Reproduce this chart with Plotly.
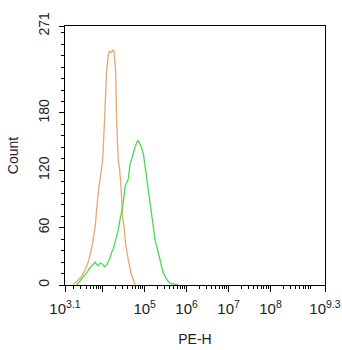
import math
import plotly.graph_objects as go

# Control (orange) histogram: log10(PE-H) and counts
ctrl_log = [3.29, 3.34, 3.42, 3.50, 3.58, 3.67, 3.75, 3.82, 3.89, 3.95, 4.00, 4.05, 4.09, 4.13,
            4.16, 4.20, 4.24, 4.27, 4.31, 4.33, 4.37, 4.40, 4.435, 4.475, 4.51, 4.54, 4.57, 4.61,
            4.67, 4.73, 4.77]
ctrl_cnt = [0, 2, 5, 9, 16, 26, 42, 61, 96, 118, 131, 180, 222, 240,
            245, 243, 246, 244, 222, 173, 131, 122, 103, 70, 61, 45, 34, 26,
            13, 5, 0]

# Sample (green) histogram
samp_log = [3.38, 3.46, 3.54, 3.62, 3.68, 3.74, 3.78, 3.82, 3.86, 3.89, 3.94, 3.99, 4.04, 4.09,
            4.13, 4.17, 4.21, 4.25, 4.29, 4.33, 4.37, 4.41, 4.45, 4.49, 4.53, 4.57, 4.61, 4.65,
            4.69, 4.73, 4.76, 4.79, 4.82, 4.85, 4.87, 4.89, 4.93, 4.97, 5.02, 5.07, 5.12, 5.17,
            5.21, 5.25, 5.29, 5.32, 5.38, 5.44, 5.52, 5.60, 5.70, 5.79]
samp_cnt = [0, 4, 8, 13, 17, 20, 22, 24, 21, 20, 23, 22, 19, 21,
            24, 28, 34, 38, 44, 50, 58, 68, 79, 86, 103, 107, 111, 126,
            131, 138, 143, 148, 150, 151, 149, 147, 143, 137, 120, 103, 86, 68,
            57, 47, 40, 34, 22, 13, 6, 2, 1, 0]

x_tick_exp = [3.1, 4, 5, 6, 7, 8, 9.3]
x_tick_txt = ["10<sup>3.1</sup>", "", "10<sup>5</sup>", "10<sup>6</sup>", "10<sup>7</sup>",
              "10<sup>8</sup>", "10<sup>9.3</sup>"]
y_tick_vals = [0, 60, 120, 180, 271]
y_tick_txt = ["0", "60", "120", "180", "271"]

minor_x = [m * 10 ** d for d in range(3, 10) for m in range(2, 10)
           if 3.1 < math.log10(m * 10 ** d) < 9.3]

fig = go.Figure()
fig.add_trace(go.Scatter(x=[10 ** v for v in ctrl_log], y=ctrl_cnt, mode="lines",
                         line=dict(color="#E8A670", width=1.3), showlegend=False))
fig.add_trace(go.Scatter(x=[10 ** v for v in samp_log], y=samp_cnt, mode="lines",
                         line=dict(color="#4FD84F", width=1.3), showlegend=False))

fig.update_layout(
    width=342, height=350,
    margin=dict(l=65, r=17, t=26, b=65, autoexpand=False),
    paper_bgcolor="white", plot_bgcolor="white",
    font=dict(family="Liberation Sans, Arial, sans-serif", color="#222222"),
)
fig.update_xaxes(
    type="log", range=[3.1, 9.3], automargin=False,
    tickmode="array", tickvals=[10 ** v for v in x_tick_exp], ticktext=x_tick_txt,
    ticks="outside", ticklen=6, tickcolor="black", tickfont=dict(size=15),
    ticklabelstandoff=4,
    showline=True, linecolor="black", linewidth=1, mirror=True,
    showgrid=False, zeroline=False,
    minor=dict(tickvals=minor_x, ticks="outside", ticklen=3, tickcolor="black"),
    title=dict(text="PE-H", font=dict(size=14), standoff=18),
)
fig.update_yaxes(
    range=[0, 271], automargin=False,
    tickmode="array", tickvals=y_tick_vals, ticktext=y_tick_txt, tickangle=-90,
    ticks="outside", ticklen=5, tickcolor="black", tickfont=dict(size=14),
    ticklabelstandoff=4,
    showline=True, linecolor="black", linewidth=1, mirror=True,
    showgrid=False, zeroline=False,
    minor=dict(tick0=0, dtick=12, ticks="outside", ticklen=3, tickcolor="black"),
    title=dict(text="Count", font=dict(size=14), standoff=14),
)

fig.write_html("out.html", config={"displayModeBar": False},
               post_script="document.body.style.margin='0';")
